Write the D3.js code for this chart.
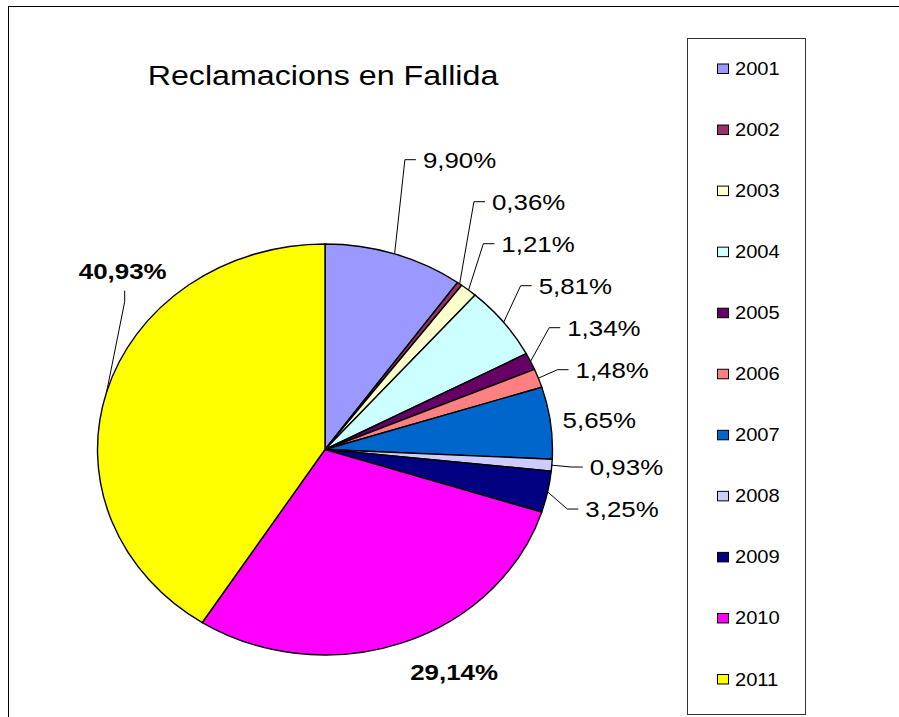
<!DOCTYPE html>
<html>
<head>
<meta charset="utf-8">
<script src="https://cdn.jsdelivr.net/npm/d3@7"></script>
<style>
  html, body { margin: 0; padding: 0; background: #fff; }
  svg { display: block; }
  text { font-family: "Liberation Sans", Arial, sans-serif; fill: #000; }
</style>
</head>
<body>
<script>
// ---- data ----
const title = "Reclamacions en Fallida";
const years = ["2001","2002","2003","2004","2005","2006","2007","2008","2009","2010","2011"];
const shares = [9.90, 0.36, 1.21, 5.81, 1.34, 1.48, 5.65, 0.93, 3.25, 29.14, 40.93];
const colors = ["#9999FF","#993366","#FFFFCC","#CCFFFF","#660066","#FF8080","#0066CC","#CCCCFF","#000080","#FF00FF","#FFFF00"];

// ---- layout ----
const W = 899, H = 717;
const cx = 325, cy = 449.5, rx = 227.5, ry = 205.5;
const stretch = 1.15;

const locale = d3.formatLocale({decimal: ",", thousands: ".", grouping: [3], currency: ["", "€"]});
const fmt = v => locale.format(".2f")(v) + "%";

const data = years.map((y, i) => ({year: y, v: shares[i], color: colors[i]}));

const svg = d3.select("body").append("svg").attr("width", W).attr("height", H);

// outer frame
svg.append("rect").attr("x", 8.5).attr("y", 6.5).attr("width", 1000).attr("height", 1000)
  .attr("fill", "none").attr("stroke", "#000").attr("stroke-width", 1);

// title
svg.append("text")
  .attr("transform", `translate(323,85) scale(${stretch},1)`)
  .attr("text-anchor", "middle").attr("font-size", 28).text(title);

// pie
const pie = d3.pie().sort(null).value(d => d.v);
const arcs = pie(data);
const arc = d3.arc().innerRadius(0).outerRadius(ry);
const g = svg.append("g").attr("transform", `translate(${cx},${cy}) scale(${rx / ry},1)`);
g.selectAll("path").data(arcs).join("path")
  .attr("d", arc)
  .attr("fill", d => d.data.color)
  .attr("stroke", "#000").attr("stroke-width", 1.4)
  .attr("stroke-linejoin", "round")
  .attr("vector-effect", "non-scaling-stroke");

// label placement
const mid = a => (a.startAngle + a.endAngle) / 2;
const edge = (ang, k = 1) => [cx + rx * k * Math.sin(ang), cy - ry * k * Math.cos(ang)];
const bigThreshold = 20, smallThreshold = 5, gap = 42, labelRy = ry + 24.5;

const right = arcs.filter(a => a.data.v < bigThreshold && mid(a) < Math.PI);
right.forEach(a => { a.ideal = cy - labelRy * Math.cos(mid(a)); a.ly = a.ideal; });
// start from the label nearest to horizontal and spread outward
let k0 = d3.minIndex(right, a => Math.abs(mid(a) - Math.PI / 2));
for (let i = k0 - 1; i >= 0; i--) right[i].ly = Math.min(right[i].ideal, right[i + 1].ly - gap);
for (let i = k0 + 1; i < right.length; i++) right[i].ly = Math.max(right[i].ideal, right[i - 1].ly + gap);

const labelLayer = svg.append("g");
const lineGen = d3.line();
right.forEach(a => {
  const P = edge(mid(a));
  const moved = Math.abs(a.ly - a.ideal) > 1;
  const leader = moved || a.data.v < smallThreshold;
  const lx = leader ? P[0] + 24 + 14 * Math.sin(mid(a)) : P[0] + 12;
  if (leader) {
    labelLayer.append("path")
      .attr("d", lineGen([P, [lx - 18, a.ly], [lx - 7, a.ly]]))
      .attr("fill", "none").attr("stroke", "#000").attr("stroke-width", 1);
  }
  labelLayer.append("text")
    .attr("transform", `translate(${lx},${a.ly + 8}) scale(${stretch},1)`)
    .attr("font-size", 22.5).text(fmt(a.data.v));
});

// big slices: bold labels placed relative to their edge anchor
const bigOffsets = {"2011": [16, -121, true], "2010": [52, 29, false]};
arcs.filter(a => a.data.v >= bigThreshold).forEach(a => {
  const P = edge(mid(a));
  const off = bigOffsets[a.data.year];
  const lc = [P[0] + off[0], P[1] + off[1]];
  if (off[2]) {
    labelLayer.append("path")
      .attr("d", lineGen([P, [lc[0] + 2, lc[1] + 31], [lc[0] + 2, lc[1] + 20]]))
      .attr("fill", "none").attr("stroke", "#000").attr("stroke-width", 1);
  }
  labelLayer.append("text")
    .attr("transform", `translate(${lc[0]},${lc[1] + 8}) scale(${stretch},1)`)
    .attr("text-anchor", "middle").attr("font-weight", "bold")
    .attr("font-size", 22.5).text(fmt(a.data.v));
});

// legend
const lg = svg.append("g");
lg.append("rect").attr("x", 687.5).attr("y", 38.5).attr("width", 118).attr("height", 676)
  .attr("fill", "#fff").attr("stroke", "#333").attr("stroke-width", 1);
const ly = d3.scalePoint().domain(years).range([68.5, 679]);
const items = lg.selectAll("g.item").data(data).join("g").attr("class", "item")
  .attr("transform", d => `translate(0,${ly(d.year)})`);
items.append("rect").attr("x", 717.5).attr("y", -4.5).attr("width", 11).attr("height", 9.5)
  .attr("fill", d => d.color).attr("stroke", "#000").attr("stroke-width", 1);
items.append("text")
  .attr("transform", `translate(735,6.5) scale(${stretch},1)`)
  .attr("font-size", 17.5).text(d => d.year);
</script>
</body>
</html>
